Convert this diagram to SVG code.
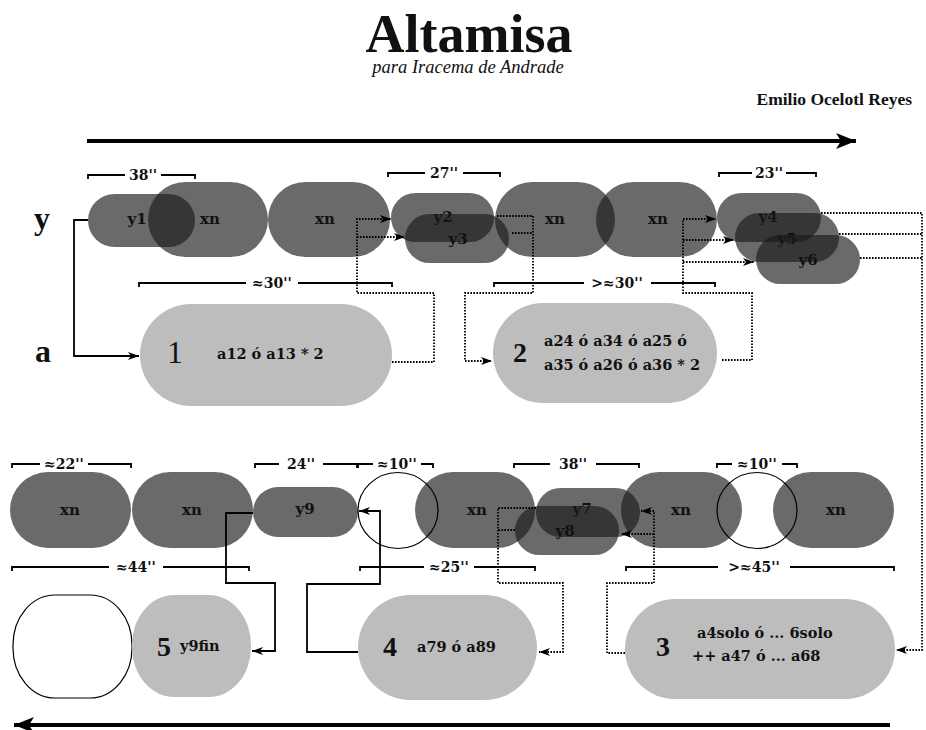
<svg xmlns="http://www.w3.org/2000/svg" width="926" height="730" viewBox="0 0 926 730">
<style>
.dk{fill:#1a1a1a;fill-opacity:.65}
.lt{fill:#bdbdbd}
.ol{fill:none;stroke:#000;stroke-width:1.2}
.lb{font-family:"DejaVu Serif",serif;font-weight:bold;font-size:15px;fill:#111;text-anchor:middle}
.nt{font-family:"DejaVu Serif",serif;font-weight:bold;font-size:14.5px;fill:#111}
.big{font-family:"Liberation Serif",serif;font-weight:bold;font-size:28px;fill:#111;text-anchor:middle}
.dim{font-family:"DejaVu Serif",serif;font-weight:bold;font-size:14px;fill:#111;text-anchor:middle}
.br{fill:none;stroke:#000;stroke-width:1.8}
.sc{fill:none;stroke:#000;stroke-width:1.8}
.dc{fill:none;stroke:#000;stroke-width:1.8;stroke-dasharray:1.6 1.4}
.ax{fill:none;stroke:#000;stroke-width:4}
.side{font-family:"Liberation Serif",serif;font-weight:bold;font-size:32px;fill:#111;text-anchor:middle}
</style>
<defs>
<marker id="ah" markerWidth="11" markerHeight="8" refX="11" refY="4" orient="auto" markerUnits="userSpaceOnUse"><path d="M0,0 L11,4 L0,8 L3,4 z" fill="#000"/></marker>
<marker id="bh" markerWidth="20" markerHeight="16" refX="20" refY="8" orient="auto" markerUnits="userSpaceOnUse"><path d="M0,0 L20,8 L0,16 L5,8 z" fill="#000"/></marker>
</defs>

<g id="title">
<text x="469" y="52" font-family="Liberation Serif, serif" font-weight="bold" font-size="54" text-anchor="middle" fill="#111">Altamisa</text>
<text x="468" y="73" font-family="Liberation Serif, serif" font-style="italic" font-size="18.5" text-anchor="middle" fill="#111">para Iracema de Andrade</text>
<text x="912" y="105" font-family="Liberation Serif, serif" font-weight="bold" font-size="17.5" text-anchor="end" fill="#111">Emilio Ocelotl Reyes</text>
</g>

<g id="time-arrows">
<path class="ax" d="M87,141 H856" marker-end="url(#bh)"/>
<path class="ax" d="M890,725 H14" marker-end="url(#bh)"/>
</g>

<g id="row-labels">
<text class="side" x="42" y="229">y</text>
<text class="side" x="43" y="362">a</text>
</g>

<g id="n-y1"><rect class="dk" x="88" y="194" width="107" height="53" rx="26.5"/><text class="lb" x="137" y="224">y1</text></g>
<g id="n-xn1"><rect class="dk" x="148" y="182" width="120" height="75" rx="37.5"/><text class="lb" x="210" y="224">xn</text></g>
<g id="n-xn2"><rect class="dk" x="268" y="182" width="122" height="75" rx="37.5"/><text class="lb" x="325" y="224">xn</text></g>
<g id="n-y2"><rect class="dk" x="391" y="193" width="103" height="49" rx="24.5"/><text class="lb" x="443" y="222">y2</text></g>
<g id="n-y3"><rect class="dk" x="405" y="214" width="104" height="49" rx="24.5"/><text class="lb" x="458" y="244">y3</text></g>
<g id="n-xn3"><rect class="dk" x="495" y="182" width="120" height="75" rx="37.5"/><text class="lb" x="555" y="224">xn</text></g>
<g id="n-xn4"><rect class="dk" x="596" y="182" width="121" height="75" rx="37.5"/><text class="lb" x="658" y="224">xn</text></g>
<g id="n-y4"><rect class="dk" x="717" y="193" width="104" height="49" rx="24.5"/><text class="lb" x="768" y="222">y4</text></g>
<g id="n-y5"><rect class="dk" x="735" y="213" width="104" height="49" rx="24.5"/><text class="lb" x="787" y="244">y5</text></g>
<g id="n-y6"><rect class="dk" x="756" y="235" width="104" height="49" rx="24.5"/><text class="lb" x="808" y="265">y6</text></g>

<g id="n-1"><rect class="lt" x="140" y="304" width="252" height="102" rx="51"/><text x="175" y="363" font-family="Liberation Serif, serif" font-size="31" text-anchor="middle" fill="#111">1</text><text class="nt" x="217" y="359">a12 ó a13 * 2</text></g>
<g id="n-2"><rect class="lt" x="493" y="303" width="224" height="100" rx="50"/><text class="big" x="520" y="362">2</text><text class="nt" x="544" y="346">a24 ó a34 ó a25 ó</text><text class="nt" x="544" y="370">a35 ó a26 ó a36 * 2</text></g>

<g id="n-xn5"><rect class="dk" x="10" y="472" width="121" height="76" rx="38"/><text class="lb" x="70" y="515">xn</text></g>
<g id="n-xn6"><rect class="dk" x="132" y="472" width="121" height="76" rx="38"/><text class="lb" x="192" y="515">xn</text></g>
<g id="n-y9"><rect class="dk" x="253" y="487" width="105" height="50" rx="25"/><text class="lb" x="305" y="514">y9</text></g>
<g id="n-xn7"><rect class="dk" x="415" y="472" width="120" height="76" rx="38"/><text class="lb" x="477" y="515">xn</text></g>
<g id="n-y7"><rect class="dk" x="536" y="488" width="104" height="49" rx="24.5"/><text class="lb" x="582" y="514">y7</text></g>
<g id="n-y8"><rect class="dk" x="515" y="506" width="104" height="49" rx="24.5"/><text class="lb" x="565" y="536">y8</text></g>
<g id="n-xn8"><rect class="dk" x="621" y="472" width="121" height="76" rx="38"/><text class="lb" x="681" y="515">xn</text></g>
<g id="n-xn9"><rect class="dk" x="773" y="472" width="121" height="76" rx="38"/><text class="lb" x="836" y="515">xn</text></g>
<g id="n-rest1"><ellipse class="ol" cx="398" cy="510.5" rx="40" ry="38"/></g>
<g id="n-rest2"><ellipse class="ol" cx="757" cy="510.5" rx="40" ry="38"/></g>

<g id="n-empty"><rect class="ol" x="13" y="595" width="119" height="103" rx="42" ry="50"/></g>
<g id="n-5"><rect class="lt" x="132" y="595" width="119" height="102" rx="42" ry="50"/><text class="big" x="164" y="656">5</text><text class="nt" x="180" y="651">y9fin</text></g>
<g id="n-4"><rect class="lt" x="358" y="595" width="179" height="105" rx="52.5"/><text class="big" x="390" y="656">4</text><text class="nt" x="417" y="652">a79 ó a89</text></g>
<g id="n-3"><rect class="lt" x="625" y="599" width="270" height="100" rx="50"/><text class="big" x="663" y="656">3</text><text class="nt" x="697" y="638">a4solo ó ... 6solo</text><text class="nt" x="692" y="661">++ a47 ó ... a68</text></g>

<g id="dimensions">
<path class="br" d="M88,179 V175 H125 M161,175 H195 V179"/><text class="dim" x="143" y="180">38''</text>
<path class="br" d="M388,177 V173 H425 M463,173 H500 V177"/><text class="dim" x="444" y="178">27''</text>
<path class="br" d="M719,177 V173 H752 M786,173 H816 V177"/><text class="dim" x="769" y="178">23''</text>
<path class="br" d="M139,287 V283 H246 M298,283 H392 V287"/><text class="dim" x="272" y="288">≈30''</text>
<path class="br" d="M494,287 V283 H584 M651,283 H715 V287"/><text class="dim" x="617" y="288">&gt;≈30''</text>
<path class="br" d="M12,468 V464 H40 M88,464 H131 V468"/><text class="dim" x="64" y="469">≈22''</text>
<path class="br" d="M255,468 V464 H279 M323,464 H357 V468"/><text class="dim" x="301" y="469">24''</text>
<path class="br" d="M358,468 V464 H373 M421,464 H433 V468"/><text class="dim" x="397" y="469">≈10''</text>
<path class="br" d="M514,468 V464 H550 M596,464 H639 V468"/><text class="dim" x="573" y="469">38''</text>
<path class="br" d="M717,468 V464 H732 M782,464 H797 V468"/><text class="dim" x="757" y="469">≈10''</text>
<path class="br" d="M12,571 V567 H109 M163,567 H249 V571"/><text class="dim" x="136" y="572">≈44''</text>
<path class="br" d="M360,571 V567 H424 M474,567 H535 V571"/><text class="dim" x="449" y="572">≈25''</text>
<path class="br" d="M626,571 V567 H718 M790,567 H894 V571"/><text class="dim" x="754" y="572">&gt;≈45''</text>
</g>

<g id="connectors">
<path class="sc" d="M88,220 H74 V356 H139" marker-end="url(#ah)"/>
<path class="dc" d="M392,362 H434 V293 H357 V219 H391" marker-end="url(#ah)"/>
<path class="dc" d="M357,237 H405" marker-end="url(#ah)"/>
<path class="dc" d="M497,216 H533 V293 H465 V361 H492" marker-end="url(#ah)"/>
<path class="dc" d="M512,233 H533"/>
<path class="dc" d="M722,360 H752 V293 H683 V219 H716" marker-end="url(#ah)"/>
<path class="dc" d="M683,240 H734" marker-end="url(#ah)"/>
<path class="dc" d="M683,262 H754" marker-end="url(#ah)"/>
<path class="dc" d="M821,213 H922 V650 H896" marker-end="url(#ah)"/>
<path class="dc" d="M839,234 H922"/>
<path class="dc" d="M860,258 H922"/>
<path class="dc" d="M625,653 H607 V583 H654 V511 H641" marker-end="url(#ah)"/>
<path class="dc" d="M654,534 H621" marker-end="url(#ah)"/>
<path class="dc" d="M536,508 H498 V583 H563 V652 H539" marker-end="url(#ah)"/>
<path class="dc" d="M515,530 H498"/>
<path class="sc" d="M358,652 H307 V584 H380 V511 H359" marker-end="url(#ah)"/>
<path class="sc" d="M253,513 H226 V583 H275 V651 H252" marker-end="url(#ah)"/>
</g>
</svg>
